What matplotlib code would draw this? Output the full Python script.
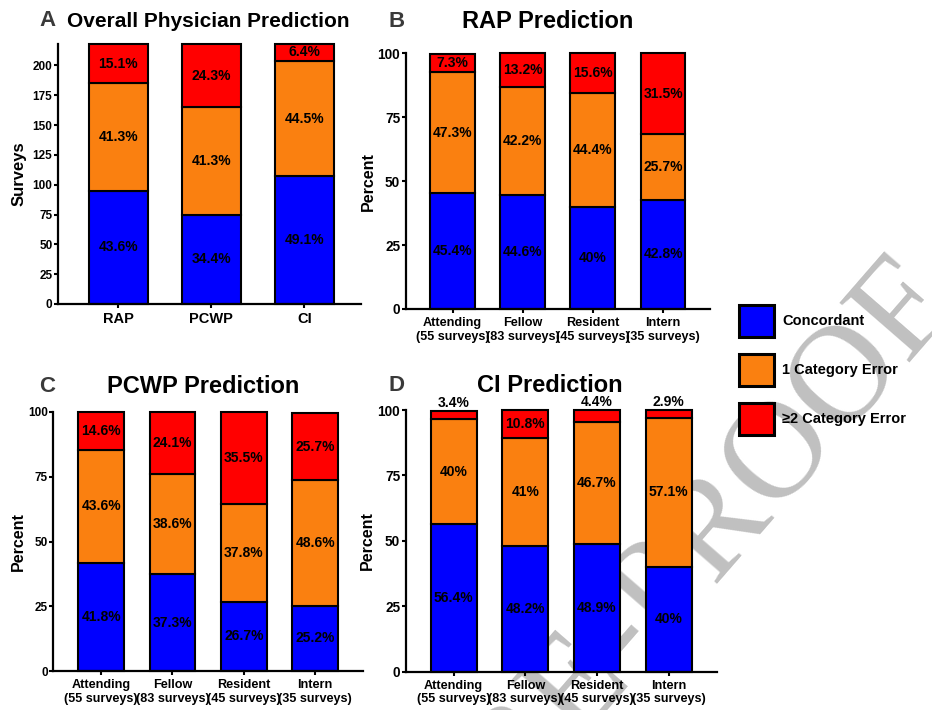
import numpy as np
import matplotlib
matplotlib.use("Agg")
import matplotlib.pyplot as plt
from matplotlib.patches import Rectangle

plt.rcParams['font.family'] = ['Liberation Sans', 'DejaVu Sans']
plt.rcParams['font.weight'] = 'bold'
plt.rcParams['axes.labelweight'] = 'bold'

# ---- data ----
categories = ['Concordant', '1 Category Error', '\u22652 Category Error']
colors = ['#0000FF', '#FA8010', '#FF0000']

modalities = ['RAP', 'PCWP', 'CI']
overall_concordant = [95, 75, 107]
overall_one = [90, 90, 97]
overall_two = [33, 53, 14]
overall_pct_concordant = [43.6, 34.4, 49.1]
overall_pct_one = [41.3, 41.3, 44.5]
overall_pct_two = [15.1, 24.3, 6.4]

groups = ['Attending\n(55 surveys)', 'Fellow\n(83 surveys)',
          'Resident\n(45 surveys)', 'Intern\n(35 surveys)']

rap_concordant = [45.4, 44.6, 40, 42.8]
rap_one = [47.3, 42.2, 44.4, 25.7]
rap_two = [7.3, 13.2, 15.6, 31.5]

pcwp_concordant = [41.8, 37.3, 26.7, 25.2]
pcwp_one = [43.6, 38.6, 37.8, 48.6]
pcwp_two = [14.6, 24.1, 35.5, 25.7]

ci_concordant = [56.4, 48.2, 48.9, 40]
ci_one = [40, 41, 46.7, 57.1]
ci_two = [3.4, 10.8, 4.4, 2.9]

W, H = 932, 710
fig = plt.figure(figsize=(W / 100, H / 100), dpi=100)
fig.patch.set_facecolor('white')


def px_axes(x0, y0, x1, y1):
    # pixel box (left, top, right, bottom) -> figure axes
    return fig.add_axes([x0 / W, 1 - y1 / H, (x1 - x0) / W, (y1 - y0) / H])


def stacked(ax, labels, segs, pcts, width, ymax, ticks, xfs, yfs, ylab):
    x = np.arange(len(labels))
    bottom = np.zeros(len(labels))
    for seg, pct, col in zip(segs, pcts, colors):
        seg = np.array(seg, dtype=float)
        ax.bar(x, seg, width, bottom=bottom, color=col, edgecolor='black',
               linewidth=1.5, zorder=2, clip_on=False)
        for xi, b, v, p in zip(x, bottom, seg, pct):
            txt = '{:g}%'.format(p)
            if v < 5:
                ax.text(xi, b + v + 0.3, txt, ha='center', va='bottom',
                        fontsize=10, zorder=3)
            else:
                ax.text(xi, b + v / 2, txt, ha='center', va='center',
                        fontsize=10, zorder=3)
        bottom = bottom + seg
    ax.set_ylim(0, ymax)
    ax.set_yticks(ticks)
    ax.set_xticks(x)
    ax.set_xticklabels(labels, fontsize=xfs, linespacing=1.15)
    if len(labels) == 4:
        ax.set_xlim(-0.67, 3.67)
    else:
        ax.set_xlim(-0.65, 2.61)
    ax.set_facecolor('none')
    for s in ['top', 'right']:
        ax.spines[s].set_visible(False)
    for s in ['left', 'bottom']:
        ax.spines[s].set_linewidth(1.6)
    ax.tick_params(axis='both', direction='out', length=3, width=1.5)
    ax.tick_params(axis='y', labelsize=yfs, pad=1)
    ax.tick_params(axis='x', pad=3)
    ax.set_ylabel(ylab, fontsize=12 if ylab == 'Surveys' else 11.5)


# panel A
axA = px_axes(58, 44, 361, 304)
stacked(axA, modalities, [overall_concordant, overall_one, overall_two],
        [overall_pct_concordant, overall_pct_one, overall_pct_two],
        0.63, 218, np.arange(0, 201, 25), 10.5, 8.5, 'Surveys')
axA.yaxis.set_label_coords(-0.104, 0.5)

# panel B
axB = px_axes(405.7, 53.5, 710, 309)
stacked(axB, groups, [rap_concordant, rap_one, rap_two],
        [rap_concordant, rap_one, rap_two],
        0.64, 100, [0, 25, 50, 75, 100], 9.1, 9.8, 'Percent')
axB.yaxis.set_label_coords(-0.099, 0.5)

# panel C
axC = px_axes(53.3, 412, 363, 671)
stacked(axC, groups, [pcwp_concordant, pcwp_one, pcwp_two],
        [pcwp_concordant, pcwp_one, pcwp_two],
        0.64, 100, [0, 25, 50, 75, 100], 9.1, 8.5, 'Percent')
axC.yaxis.set_label_coords(-0.087, 0.5)

# panel D
axD = px_axes(405.7, 410, 716.7, 671.7)
stacked(axD, groups, [ci_concordant, ci_one, ci_two],
        [ci_concordant, ci_one, ci_two],
        0.64, 100, [0, 25, 50, 75, 100], 9.1, 9.8, 'Percent')
axD.yaxis.set_label_coords(-0.10, 0.5)

# titles and panel letters
titles = [('A', 39, 'Overall Physician Prediction', 67, 27, 15),
          ('B', 388, 'RAP Prediction', 461.7, 28, 17),
          ('C', 39, 'PCWP Prediction', 107, 393, 17),
          ('D', 388, 'CI Prediction', 476.7, 392, 17)]
for letter, lx, title, tx, base, fs in titles:
    fig.text(lx / W, 1 - (base - 1) / H, letter, fontsize=16, color='#3a3a3a',
             ha='left', va='baseline')
    fig.text(tx / W, 1 - base / H, title, fontsize=fs, color='black',
             ha='left', va='baseline')

# legend
for i, (lab, col) in enumerate(zip(categories, colors)):
    top = 305 + i * 49
    fig.patches.append(Rectangle((739 / W, 1 - (top + 32) / H), 35 / W, 32 / H,
                                 transform=fig.transFigure, facecolor=col,
                                 edgecolor='black', linewidth=2.2))
    fig.text(782 / W, 1 - (top + 16) / H, lab, fontsize=10.5, ha='left',
             va='center')

# watermark
fig.text(0.735, 0.205, 'PRE-PROOF', rotation=49, fontsize=100,
         family='Liberation Serif', fontweight='normal', color='#c0c0c0',
         ha='center', va='center', zorder=-5)

fig.savefig('out.png', dpi=100)
